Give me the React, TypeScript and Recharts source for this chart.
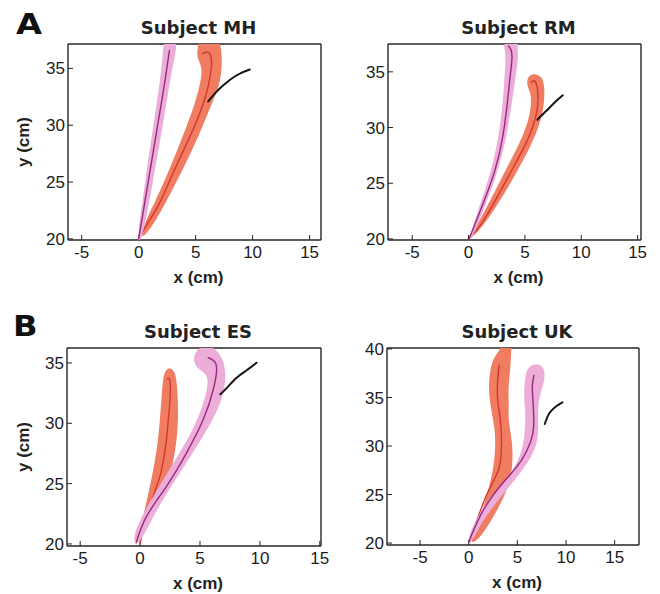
import { ScatterChart, Scatter, XAxis, YAxis, Curve } from "recharts";

// reach trajectories (cm): pink / orange bands with their mean lines, black = target path
type P = [number, number];

const xTicks = [-5, 0, 5, 10, 15];
const yTicks = [20, 25, 30, 35];
const yTicksUK = [20, 25, 30, 35, 40];

// Subject MH
const mhPinkBand: P[] = [
  [-0.15, 19.9], [0.3, 23], [0.7, 26], [1.15, 29], [1.6, 32], [1.95, 34.5], [2.15, 36.6], [2.2, 37.6],
  [3.35, 37.6], [3.3, 36.6], [2.85, 34.5], [2.45, 32], [1.95, 29], [1.4, 26], [0.9, 23], [0.3, 20.2], [0.15, 19.85],
];
const mhPinkMean: P[] = [[0, 20], [0.5, 23], [1.0, 26], [1.5, 29], [2.0, 32], [2.4, 34.5], [2.7, 36.6]];
const mhOrangeBand: P[] = [
  [0.1, 20.1], [0.73, 21.84], [1.4, 23.17], [2.72, 26.12], [3.89, 29.07], [5.0, 32.02], [5.5, 34.09], [5.55, 35.1],
  [5.25, 35.7], [5.1, 36.3], [5.2, 36.9], [5.35, 37.6],
  [7.1, 37.6], [7.25, 36.6], [7.34, 35.27], [7.1, 33.5], [6.46, 32.02], [5.29, 29.07], [3.89, 26.12], [2.37, 23.17],
  [1.55, 21.7], [0.6, 20.3],
];
const mhOrangeMean: P[] = [
  [0, 20], [0.8, 21.4], [1.84, 23.17], [3.16, 26.1], [4.53, 29.07], [5.7, 32.0], [6.29, 34.4], [6.37, 35.86],
  [6.08, 36.44], [5.6, 36.3],
];
const mhBlack: P[] = [[6.1, 32.1], [6.7, 32.8], [7.4, 33.5], [8.6, 34.4], [9.75, 34.9]];

// Subject RM
const rmPinkBand: P[] = [
  [0.0, 19.95], [1.05, 23.2], [2.05, 26.2], [2.7, 29.3], [3.05, 32.3], [3.2, 34.7], [3.3, 36.24], [3.2, 37.0], [3.05, 38.0],
  [4.4, 38.0], [4.35, 37.0], [4.4, 36.24], [4.2, 34.7], [3.85, 32.3], [3.4, 29.3], [2.65, 26.2], [1.55, 23.2], [0.3, 19.95],
];
const rmPinkMean: P[] = [
  [0.05, 20], [1.3, 23.2], [2.35, 26.2], [3.05, 29.3], [3.45, 32.3], [3.7, 34.7], [3.85, 36.24], [3.75, 37.0], [3.55, 37.3],
];
const rmOrangeBand: P[] = [
  [0.0, 20.0], [0.8, 21.3], [1.95, 23.5], [3.35, 26.3], [4.45, 28.4], [5.15, 30.1], [5.55, 31.7], [5.55, 33.0], [5.25, 33.6],
  [5.15, 34.2], [5.4, 34.7], [5.85, 34.85],
  [6.4, 34.65], [6.7, 34.0], [6.75, 33.0], [6.65, 31.7], [6.25, 30.1], [5.55, 28.4], [4.45, 26.3], [2.85, 23.5], [1.4, 21.3],
  [0.35, 20.15],
];
const rmOrangeMean: P[] = [
  [0.1, 20.1], [1.1, 21.3], [2.4, 23.5], [3.9, 26.3], [5.0, 28.4], [5.7, 30.1], [6.1, 31.7], [6.15, 33.0], [6.05, 33.8],
  [5.8, 34.2], [5.55, 34.05],
];
const rmBlack: P[] = [[6.1, 30.7], [6.7, 31.3], [7.2, 31.8], [7.8, 32.4], [8.36, 32.9]];

// Subject ES
const esPinkBand: P[] = [
  [-0.61, 20.39], [-0.14, 21.77], [1.11, 23.98], [2.78, 26.74], [4.17, 28.95], [5.14, 31.16], [5.61, 32.8], [5.69, 33.92],
  [5.14, 34.33], [4.58, 34.75], [4.44, 35.44], [4.72, 36.1], [5.28, 36.4],
  [6.11, 36.35], [6.67, 35.71], [7.0, 35.02], [7.17, 33.92], [7.0, 32.54], [6.39, 30.88], [5.28, 28.95], [3.89, 26.74],
  [2.22, 24.25], [0.83, 21.77], [0.14, 20.39], [-0.28, 19.97],
];
const esPinkMean: P[] = [
  [-0.33, 20.1], [0.56, 22.32], [2.22, 24.8], [3.89, 27.57], [5.28, 30.33], [6.11, 32.8], [6.39, 34.47], [6.17, 35.16], [5.69, 35.44],
];
const esOrangeBand: P[] = [
  [-0.28, 20.25], [0.28, 22.32], [0.83, 24.8], [1.39, 27.57], [1.67, 30.33], [1.81, 32.54], [1.94, 33.92], [2.17, 34.47], [2.5, 34.61],
  [2.92, 34.33], [3.11, 33.09], [3.19, 30.88], [3.11, 28.95], [2.78, 26.74], [2.22, 24.8], [1.39, 22.87], [0.42, 20.94],
];
const esOrangeMean: P[] = [
  [0, 20], [0.42, 21.77], [1.39, 24.8], [1.81, 26.2], [2.17, 28.4], [2.36, 30.33], [2.5, 31.99], [2.5, 33.5], [2.28, 33.7],
];
const esBlack: P[] = [[6.7, 32.4], [7.3, 33.0], [8.06, 33.78], [8.9, 34.4], [9.72, 35.02]];

// Subject UK
const ukOrangeBand: P[] = [
  [0.03, 19.97], [0.79, 21.5], [1.47, 23.56], [2.16, 25.95], [2.67, 28.34], [2.77, 31.08], [2.5, 32.79], [2.16, 34.5],
  [2.02, 36.55], [2.33, 38.6], [2.84, 39.45], [3.25, 40.0], [3.3, 40.6],
  [4.4, 40.6], [4.38, 39.97], [4.28, 37.91], [4.04, 35.86], [4.14, 34.15], [4.04, 32.79], [4.38, 31.08], [4.56, 29.03],
  [4.38, 26.97], [3.87, 25.26], [2.84, 23.21], [1.82, 21.5], [0.79, 20.14],
];
const ukOrangeMean: P[] = [
  [0.1, 20.14], [0.79, 22.19], [1.82, 24.92], [2.67, 26.63], [3.25, 28.34], [3.36, 31.08], [3.19, 33.13], [2.95, 35.18],
  [3.01, 37.23], [3.12, 38.32],
];
const ukPinkBand: P[] = [
  [-0.17, 20.31], [0.62, 22.19], [1.82, 24.24], [3.19, 25.78], [4.56, 27.49], [5.41, 29.2], [5.76, 31.08], [5.86, 33.13],
  [5.65, 35.18], [5.76, 36.89], [6.0, 37.98], [6.54, 38.43],
  [7.3, 38.46], [7.81, 37.91], [7.81, 36.72], [7.37, 35.52], [7.09, 33.98], [7.16, 32.1], [7.09, 30.39], [6.44, 28.85],
  [5.24, 27.15], [3.87, 25.44], [2.33, 23.56], [0.96, 21.5], [0.27, 19.97],
];
const ukPinkMean: P[] = [
  [0.01, 20.14], [1.13, 22.7], [2.5, 24.92], [4.04, 26.8], [5.41, 28.51], [6.34, 30.39], [6.68, 32.1], [6.61, 34.5],
  [6.54, 36.2], [6.71, 37.3],
];
const ukBlack: P[] = [[7.81, 32.27], [8.15, 33.13], [8.5, 33.64], [9.0, 34.1], [9.63, 34.5]];

const PINK = "#ecaed9";
const ORANGE = "#f07d62";
const PURPLE = "#97297f";
const RED = "#d2372b";
const BLACK = "#151515";
const AXIS = "#262626";

const YW = 45; // left axis width
const XH = 32; // bottom axis height
const MT = 10;
const MR = 16;

const pts = (a: P[]) => a.map(([x, y]) => ({ x, y }));

function band(d: P[], color: string, key: string) {
  return (
    <Scatter
      key={key}
      data={pts(d)}
      fill={color}
      isAnimationActive={false}
      shape={() => <g />}
      line={(p: any) => <Curve points={p.points} type="basisClosed" fill={color} stroke="none" />}
    />
  );
}

function path(d: P[], color: string, width: number, key: string) {
  return (
    <Scatter
      key={key}
      data={pts(d)}
      fill={color}
      isAnimationActive={false}
      shape={() => <g />}
      line={(p: any) => (
        <Curve points={p.points} type="natural" fill="none" stroke={color} strokeWidth={width} strokeLinecap="round" />
      )}
    />
  );
}

type Panel = {
  id: string;
  box: { l: number; r: number; t: number; b: number };
  xDomain: [number, number];
  yDomain: [number, number];
  yTicks: number[];
  pinkBand: P[];
  pinkMean: P[];
  orangeBand: P[];
  orangeMean: P[];
  black: P[];
};

const panels: Panel[] = [
  { id: "mh", box: { l: 68, r: 321, t: 44, b: 240 }, xDomain: [-6.2, 16.0], yDomain: [19.9, 37.15], yTicks,
    pinkBand: mhPinkBand, pinkMean: mhPinkMean, orangeBand: mhOrangeBand, orangeMean: mhOrangeMean, black: mhBlack },
  { id: "rm", box: { l: 388, r: 641, t: 44, b: 240 }, xDomain: [-7.15, 15.3], yDomain: [19.9, 37.5], yTicks,
    pinkBand: rmPinkBand, pinkMean: rmPinkMean, orangeBand: rmOrangeBand, orangeMean: rmOrangeMean, black: rmBlack },
  { id: "es", box: { l: 67, r: 321, t: 348, b: 546 }, xDomain: [-6.1, 15.1], yDomain: [19.83, 36.24], yTicks,
    pinkBand: esPinkBand, pinkMean: esPinkMean, orangeBand: esOrangeBand, orangeMean: esOrangeMean, black: esBlack },
  { id: "uk", box: { l: 387, r: 639, t: 348, b: 545 }, xDomain: [-8.4, 17.5], yDomain: [19.8, 40.1], yTicks: yTicksUK,
    pinkBand: ukPinkBand, pinkMean: ukPinkMean, orangeBand: ukOrangeBand, orangeMean: ukOrangeMean, black: ukBlack },
];

const axisLine = { stroke: AXIS, strokeWidth: 1.4 };
const tickLine = { stroke: AXIS, strokeWidth: 1 };
const tickFont = { fill: "#1c1c1c", fontSize: 17, fontFamily: "'Liberation Sans', Arial, sans-serif" };

function PanelChart({ p }: { p: Panel }) {
  const w = p.box.r - p.box.l;
  const h = p.box.b - p.box.t;
  return (
    <div style={{ position: "absolute", left: p.box.l - YW, top: p.box.t - MT - 1 }}>
      <ScatterChart width={YW + w + 1 + MR} height={MT + 1 + h + XH} margin={{ top: MT, right: MR, bottom: 0, left: 0 }}>
        <XAxis type="number" dataKey="x" domain={p.xDomain} ticks={xTicks} interval={0} allowDataOverflow
          height={XH} tickSize={-5} tickMargin={11} axisLine={axisLine} tickLine={tickLine} tick={tickFont} />
        <XAxis xAxisId="top" orientation="top" type="number" dataKey="x" domain={p.xDomain} ticks={xTicks} interval={0}
          allowDataOverflow height={1} tickSize={-5} tick={false} axisLine={axisLine} tickLine={tickLine} />
        <YAxis type="number" dataKey="y" domain={p.yDomain} ticks={p.yTicks} interval={0} allowDataOverflow
          width={YW} tickSize={-5} tickMargin={8} axisLine={axisLine} tickLine={tickLine} tick={tickFont} />
        <YAxis yAxisId="right" orientation="right" type="number" dataKey="y" domain={p.yDomain} ticks={p.yTicks}
          interval={0} allowDataOverflow width={1} tickSize={-5} tick={false} axisLine={axisLine} tickLine={tickLine} />
        {band(p.orangeBand, ORANGE, "ob")}
        {path(p.orangeMean, RED, 1.4, "om")}
        {band(p.pinkBand, PINK, "pb")}
        {path(p.pinkMean, PURPLE, 1.4, "pm")}
        {path(p.black, BLACK, 2, "bk")}
      </ScatterChart>
    </div>
  );
}

const titles = ["Subject MH", "Subject RM", "Subject ES", "Subject UK"];
const titleFont = "'DejaVu Sans', Arial, sans-serif";
const labelFont = "'Liberation Sans', Arial, sans-serif";

export default function App() {
  return (
    <div style={{ position: "absolute", left: 0, top: 0, width: 660, height: 594, background: "#fff", overflow: "hidden" }}>
      {panels.map((p) => (
        <PanelChart key={p.id} p={p} />
      ))}
      <svg width={660} height={594} style={{ position: "absolute", left: 0, top: 0, pointerEvents: "none" }}>
        <text x={16} y={34} fontFamily={titleFont} fontWeight="bold" fontSize={28} fill="#111"
          transform="translate(16 34) scale(1.2 1) translate(-16 -34)">A</text>
        <text x={13} y={336} fontFamily={titleFont} fontWeight="bold" fontSize={28} fill="#111"
          transform="translate(13 336) scale(1.15 1) translate(-13 -336)">B</text>
        {panels.map((p, i) => {
          const cx = (p.box.l + p.box.r) / 2 + 4;
          return (
            <g key={p.id}>
              <text x={cx} y={p.box.t - 10} textAnchor="middle" fontFamily={titleFont} fontWeight="bold" fontSize={18} fill="#222">
                {titles[i]}
              </text>
              <text x={cx} y={p.box.b + 43} textAnchor="middle" fontFamily={labelFont} fontWeight="bold" fontSize={17} fill="#222">
                x (cm)
              </text>
            </g>
          );
        })}
        {[panels[0], panels[2]].map((p) => {
          const cy = (p.box.t + p.box.b) / 2;
          return (
            <text key={p.id} x={29} y={cy} textAnchor="middle" fontFamily={labelFont} fontWeight="bold" fontSize={17}
              fill="#222" transform={`rotate(-90 29 ${cy})`}>
              y (cm)
            </text>
          );
        })}
      </svg>
    </div>
  );
}
